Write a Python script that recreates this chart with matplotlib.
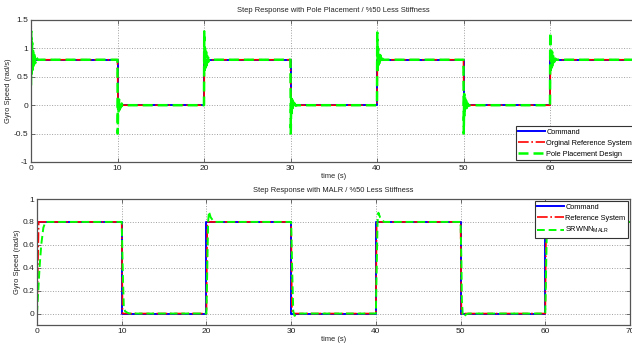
import matplotlib
matplotlib.use("Agg")
import matplotlib.pyplot as plt

plt.rcParams['font.family'] = ['Liberation Sans', 'DejaVu Sans']
plt.rcParams['mathtext.fontset'] = 'custom'
plt.rcParams['mathtext.rm'] = 'Liberation Sans'

# ---------------- data ----------------
# Command (square wave), shared by both panels
cmd_t = [0, 0, 10, 10, 20, 20, 30, 30, 40, 40, 50, 50, 60, 60, 70]
cmd_y = [0, 0.8, 0.8, 0, 0, 0.8, 0.8, 0, 0, 0.8, 0.8, 0, 0, 0.8, 0.8]

# Top panel: original reference system
ref1_t = [0, 0.05, 10, 10.05, 20, 20.05, 30, 30.05, 40, 40.05, 50, 50.05, 60, 60.05, 70]
ref1_y = [0.35, 0.8, 0.8, 0, 0, 0.8, 0.8, 0, 0, 0.8, 0.8, 0, 0, 0.8, 0.8]

# Top panel: pole placement design
pp_t = [0, 0.03, 0.08, 0.13, 0.18, 0.24, 0.30, 0.38, 0.48, 0.6, 0.8,
        10, 10.03, 10.08, 10.13, 10.18, 10.24, 10.30, 10.38, 10.48, 10.6, 10.8,
        20, 20.03, 20.08, 20.13, 20.18, 20.24, 20.30, 20.38, 20.48, 20.6, 20.8,
        30, 30.03, 30.08, 30.13, 30.18, 30.24, 30.30, 30.38, 30.48, 30.6, 30.8,
        40, 40.03, 40.08, 40.13, 40.18, 40.24, 40.30, 40.38, 40.48, 40.6, 40.8,
        50, 50.03, 50.08, 50.13, 50.18, 50.24, 50.30, 50.38, 50.48, 50.6, 50.8,
        60, 60.03, 60.08, 60.13, 60.18, 60.24, 60.30, 60.38, 60.48, 60.6, 60.8,
        70]
pp_y = [0.35, 1.30, 0.55, 1.10, 0.62, 1.00, 0.68, 0.92, 0.74, 0.84, 0.80,
        0.80, -0.50, 0.12, -0.14, 0.10, -0.08, 0.06, -0.04, 0.03, -0.01, 0.0,
        0.0, 1.30, 0.62, 1.00, 0.66, 0.94, 0.70, 0.88, 0.76, 0.82, 0.80,
        0.80, -0.50, 0.12, -0.14, 0.10, -0.08, 0.06, -0.04, 0.03, -0.01, 0.0,
        0.0, 1.28, 0.62, 1.00, 0.66, 0.94, 0.70, 0.88, 0.76, 0.82, 0.80,
        0.80, -0.50, 0.20, -0.20, 0.14, -0.10, 0.08, -0.05, 0.03, -0.01, 0.0,
        0.0, 1.28, 0.62, 1.00, 0.66, 0.94, 0.70, 0.88, 0.76, 0.82, 0.80,
        0.80]

# Bottom panel: reference system
ref2_t = [0, 0.2, 10, 10.1, 20, 20.1, 30, 30.1, 40, 40.1, 50, 50.1, 60, 60.1, 70]
ref2_y = [0, 0.8, 0.8, 0, 0, 0.8, 0.8, 0, 0, 0.8, 0.8, 0, 0, 0.8, 0.8]

# Bottom panel: SRWNN_MALR
sr_t = [0, 0.15, 0.3, 0.5, 0.75, 1.0,
        10, 10.1, 10.15, 10.25, 10.4, 10.6, 10.9,
        20, 20.1, 20.2, 20.3, 20.5, 20.8, 21.0,
        30, 30.1, 30.15, 30.25, 30.4, 30.6, 30.9,
        40, 40.1, 40.2, 40.3, 40.5, 40.8, 41.0,
        50, 50.1, 50.15, 50.25, 50.4, 50.6, 50.9,
        60, 60.1, 60.2, 60.3, 60.5, 60.8, 61.0,
        70]
sr_y = [0, 0.2, 0.4, 0.6, 0.75, 0.8,
        0.8, 0.45, 0.3, 0.05, 0.02, 0.01, 0.0,
        0.0, 0.4, 0.8, 0.89, 0.84, 0.81, 0.8,
        0.8, 0.45, 0.3, 0.02, -0.02, -0.01, 0.0,
        0.0, 0.4, 0.8, 0.88, 0.84, 0.81, 0.8,
        0.8, 0.45, 0.12, 0.0, -0.03, -0.01, 0.0,
        0.0, 0.4, 0.8, 0.88, 0.84, 0.81, 0.8,
        0.8]

top_title = 'Step Response with Pole Placement / %50 Less Stiffness'
bot_title = 'Step Response with MALR / %50 Less Stiffness'
top_labels = ['Command', 'Orginal Reference System', 'Pole Placement Design']
bot_labels = ['Command', 'Reference System', r'SRWNN$_{\mathrm{MALR}}$']
top_yticks = [-1, -0.5, 0, 0.5, 1, 1.5]
top_yticklabels = ['-1', '-0.5', '0', '0.5', '1', '1.5']
bot_yticks = [0, 0.2, 0.4, 0.6, 0.8, 1]
bot_yticklabels = ['0', '0.2', '0.4', '0.6', '0.8', '1']
xticks = [0, 10, 20, 30, 40, 50, 60, 70]

# ---------------- plot ----------------
W, H = 632, 347
fig = plt.figure(figsize=(W / 100, H / 100), dpi=100)
fig.patch.set_facecolor('white')

ax1 = fig.add_axes([31 / W, 1 - 162 / H, (636.5 - 31) / W, 142 / H])
ax2 = fig.add_axes([37 / W, 1 - 325 / H, (630 - 37) / W, 126 / H])

spine_c = '#555555'
txt_c = '#222222'

def style(ax):
    for s in ax.spines.values():
        s.set_color(spine_c)
        s.set_linewidth(0.9)
    ax.tick_params(direction='in', length=3, width=0.6, color=spine_c,
                   labelsize=6.0, labelcolor=txt_c, top=True, right=True, pad=2)
    ax.grid(True, linestyle=':', color='#a0a0a0', linewidth=0.7)
    ax.set_xticks(xticks)
    ax.set_xticklabels([str(v) for v in xticks])
    ax.set_xlim(0, 70)

leg_kw = dict(fontsize=5.35, handlelength=3.6, handletextpad=0.2,
              borderpad=0.3, labelspacing=0.5, fancybox=False, framealpha=1,
              edgecolor='#333333', borderaxespad=0.3)

# top
ax1.plot(cmd_t, cmd_y, color='#0000ff', lw=1.4, label=top_labels[0])
ax1.plot(ref1_t, ref1_y, color='#ff0000', lw=1.2, ls='-.', label=top_labels[1])
ax1.plot(pp_t, pp_y, color='#00ff00', lw=1.8, ls='--', dashes=(4, 2), label=top_labels[2])
style(ax1)
ax1.set_ylim(-1, 1.5)
ax1.set_yticks(top_yticks)
ax1.set_yticklabels(top_yticklabels)
ax1.set_title(top_title, fontsize=5.4, pad=6, color=txt_c)
ax1.set_xlabel('time (s)', fontsize=5.4, labelpad=1, color=txt_c)
ax1.set_ylabel('Gyro Speed (rad/s)', fontsize=5.4, labelpad=1, color=txt_c)
leg1 = ax1.legend(loc='lower right', **leg_kw)
leg1.get_frame().set_linewidth(0.8)

# bottom
ax2.plot(cmd_t, cmd_y, color='#0000ff', lw=1.4, label=bot_labels[0])
ax2.plot(ref2_t, ref2_y, color='#ff0000', lw=1.2, ls='-.', label=bot_labels[1])
ax2.plot(sr_t, sr_y, color='#00ff00', lw=1.4, ls='--', dashes=(4, 2), label=bot_labels[2])
style(ax2)
ax2.set_ylim(-0.1, 1)
ax2.set_yticks(bot_yticks)
ax2.set_yticklabels(bot_yticklabels)
ax2.set_title(bot_title, fontsize=5.4, pad=5, color=txt_c)
ax2.set_xlabel('time (s)', fontsize=5.4, labelpad=1, color=txt_c)
ax2.set_ylabel('Gyro Speed (rad/s)', fontsize=5.4, labelpad=1, color=txt_c)
leg2 = ax2.legend(loc='upper right', **leg_kw)
leg2.get_frame().set_linewidth(0.8)

fig.savefig('out.png', dpi=100)
